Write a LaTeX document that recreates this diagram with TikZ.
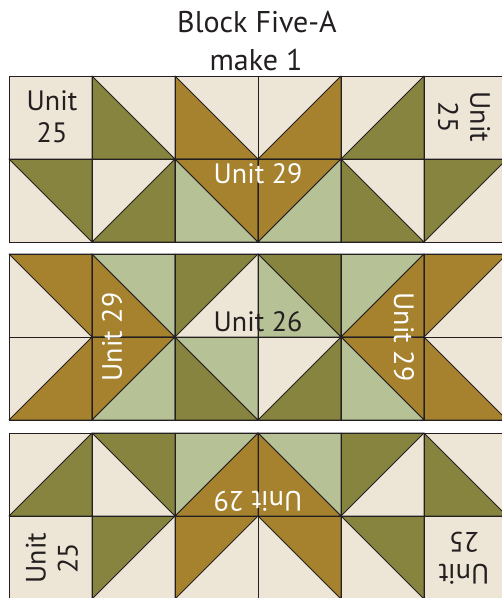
\documentclass[tikz,border=0pt]{standalone}
\usepackage{fontspec}
\setmainfont{PT Sans}
\usepackage{xcolor}
\usepackage{tikz}
\usetikzlibrary{positioning}
\definecolor{creamFill}{HTML}{EDE5D5}
\definecolor{oliveFill}{HTML}{878440}
\definecolor{goldFill}{HTML}{A6822E}
\definecolor{sageFill}{HTML}{B6C196}
\definecolor{seamCol}{HTML}{231F20}

% one strip of six by two squares (top strip, used again turned over at the bottom)
\newcommand{\unitstripA}{%
  \fill[creamFill] (0,0) rectangle (498,166);
  \foreach \c/\r/\a/\b/\f in {1/0/0/1/oliveFill, 2/0/0/1/goldFill, 3/0/1/1/goldFill, 4/0/1/1/oliveFill,
                              0/1/1/0/oliveFill, 1/1/1/1/oliveFill, 2/1/0/1/sageFill, 2/1/1/0/goldFill,
                              3/1/0/0/goldFill, 3/1/1/1/sageFill, 4/1/0/1/oliveFill, 5/1/0/0/oliveFill}
    \filldraw[patch, fill=\f] ({83*(\c+\a)},{83*(\r+\b)}) -- ({83*(\c+1-\a)},{83*(\r+\b)})
                              -- ({83*(\c+\a)},{83*(\r+1-\b)}) -- cycle;
  \foreach \c in {0,...,5}
    \foreach \r in {0,1}
      \draw[seam] ({83*\c},{83*\r}) rectangle +(83,83);
  \node[unitlbl, align=center]              (u25l) at (43,41)  {Unit\\25};
  \node[unitlbl, align=center, rotate=-90]  (u25r) at (455,41) {Unit\\25};
  \node[unitlbl, text=white]                (u29m) at (249,98) {Unit 29};
}

\begin{document}
\begin{tikzpicture}[
  x=1pt, y=-1pt,
  seam/.style={draw=seamCol, line width=0.9pt},
  patch/.style={draw=seamCol, line width=0.9pt, line join=round},
  unitlbl/.style={font=\fontsize{28}{32}\selectfont, text=seamCol, inner sep=0pt},
  titlelbl/.style={font=\fontsize{30}{36}\selectfont, text=seamCol, inner sep=0pt, anchor=base},
]
\useasboundingbox (0,0) rectangle (502,598);
\clip (0,0) rectangle (502,598);

% ---- Titulo ----
\node[titlelbl] (title) at (257,32) {Block Five-A};
\node[titlelbl] (make)  at (256,70) {make 1};

% ---- Franja superior ----
\begin{scope}[shift={(9,76)}]
  \unitstripA
\end{scope}

% ---- Franja central ----
\begin{scope}[shift={(9,254)}]
  \fill[creamFill] (0,0) rectangle (498,166);
  \foreach \c/\r/\a/\b/\f in {0/0/1/0/goldFill, 1/0/0/1/goldFill, 1/0/1/0/sageFill, 2/0/0/0/oliveFill,
                              3/0/1/0/oliveFill, 3/0/0/1/sageFill, 4/0/0/0/sageFill, 4/0/1/1/goldFill,
                              5/0/0/0/goldFill,
                              0/1/1/1/goldFill, 1/1/0/0/goldFill, 1/1/1/1/sageFill, 2/1/0/1/oliveFill,
                              2/1/1/0/sageFill, 3/1/1/1/oliveFill, 4/1/1/0/goldFill, 4/1/0/1/sageFill,
                              5/1/0/1/goldFill}
    \filldraw[patch, fill=\f] ({83*(\c+\a)},{83*(\r+\b)}) -- ({83*(\c+1-\a)},{83*(\r+\b)})
                              -- ({83*(\c+\a)},{83*(\r+1-\b)}) -- cycle;
  \foreach \c in {0,...,5}
    \foreach \r in {0,1}
      \draw[seam] ({83*\c},{83*\r}) rectangle +(83,83);
  \node[unitlbl]                         (u26)  at (249,68) {Unit 26};
  \node[unitlbl, text=white, rotate=90]  (u29l) at (103,83) {Unit 29};
  \node[unitlbl, text=white, rotate=-90] (u29r) at (395,83) {Unit 29};
\end{scope}

% ---- Franja inferior (la superior girada) ----
\begin{scope}[shift={(507,599)}, rotate=180, transform shape]
  \unitstripA
\end{scope}

\end{tikzpicture}
\end{document}
